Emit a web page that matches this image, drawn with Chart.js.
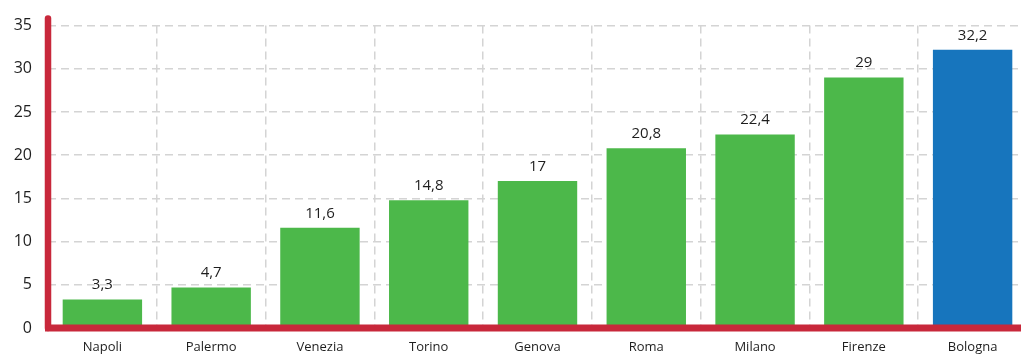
<!DOCTYPE html>
<html>
<head>
<meta charset="utf-8">
<script src="https://cdn.jsdelivr.net/npm/chart.js@4"></script>
<style>
  html, body { margin: 0; padding: 0; background: #fff; overflow: hidden; }
  #wrap { position: relative; width: 1027px; height: 356px; }
</style>
</head>
<body>
<div id="wrap"><canvas id="c"></canvas></div>
<script>
// città e valori
const cities = ['Napoli', 'Palermo', 'Venezia', 'Torino', 'Genova', 'Roma', 'Milano', 'Firenze', 'Bologna'];
const values = [3.3, 4.7, 11.6, 14.8, 17, 20.8, 22.4, 29, 32.2];
const highlight = 'Bologna';

const GREEN = '#4cb84a';
const BLUE = '#1775bd';
const RED = '#c8283b';
const FONT = "'Open Sans', 'Noto Sans', sans-serif";

// assi rossi disegnati a mano, con l'estremità superiore arrotondata
const axisLines = {
    id: 'axisLines',
    afterDraw(chart) {
        const { ctx, chartArea } = chart;
        ctx.save();
        ctx.strokeStyle = RED;
        ctx.lineCap = 'round';
        ctx.lineJoin = 'round';
        ctx.lineWidth = 6.5;
        ctx.beginPath();
        ctx.moveTo(chartArea.left, chartArea.top - 7);
        ctx.lineTo(chartArea.left, chartArea.bottom);
        ctx.stroke();
        ctx.lineCap = 'butt';
        ctx.lineWidth = 7;
        ctx.beginPath();
        ctx.moveTo(chartArea.left - 3, chartArea.bottom);
        ctx.lineTo(chart.width, chartArea.bottom);
        ctx.stroke();
        ctx.restore();
    }
};

// etichette con il valore sopra ogni barra
const valueLabels = {
    id: 'valueLabels',
    afterDatasetsDraw(chart) {
        const { ctx } = chart;
        const meta = chart.getDatasetMeta(0);
        ctx.save();
        ctx.font = '15px ' + FONT;
        ctx.fillStyle = '#1e1e1e';
        ctx.textAlign = 'center';
        ctx.textBaseline = 'bottom';
        meta.data.forEach((bar, i) => {
            const txt = String(values[i]).replace('.', ',');
            ctx.fillText(txt, bar.x, bar.y - 7);
        });
        ctx.restore();
    }
};

new Chart(document.getElementById('c'), {
    type: 'bar',
    data: {
        labels: cities,
        datasets: [{
            data: values,
            backgroundColor: cities.map(c => c === highlight ? BLUE : GREEN),
            barPercentage: 0.73,
            categoryPercentage: 1
        }]
    },
    options: {
        responsive: true, maintainAspectRatio: false,
        animation: false,
        layout: { padding: { top: 23, right: 0 } },
        plugins: { legend: { display: false }, tooltip: { enabled: false } },
        scales: {
            x: {
                grid: {
                    offset: true,
                    color: '#d4d4d4',
                    lineWidth: 1.5,
                    drawTicks: false
                },
                border: { display: false, dash: [8, 5] },
                ticks: { color: '#1e1e1e', font: { family: FONT, size: 13 }, padding: 11 },
                afterFit(scale) { scale.height = 28; }
            },
            y: {
                min: 0, max: 35,
                ticks: { stepSize: 5, color: '#1e1e1e', font: { family: FONT, size: 16 }, padding: 16 },
                grid: { color: '#d4d4d4', lineWidth: 1.5, drawTicks: false },
                border: { display: false, dash: [8, 5] },
                afterFit(scale) { scale.width = 48; }
            }
        }
    },
    plugins: [axisLines, valueLabels]
});
</script>
</body>
</html>
